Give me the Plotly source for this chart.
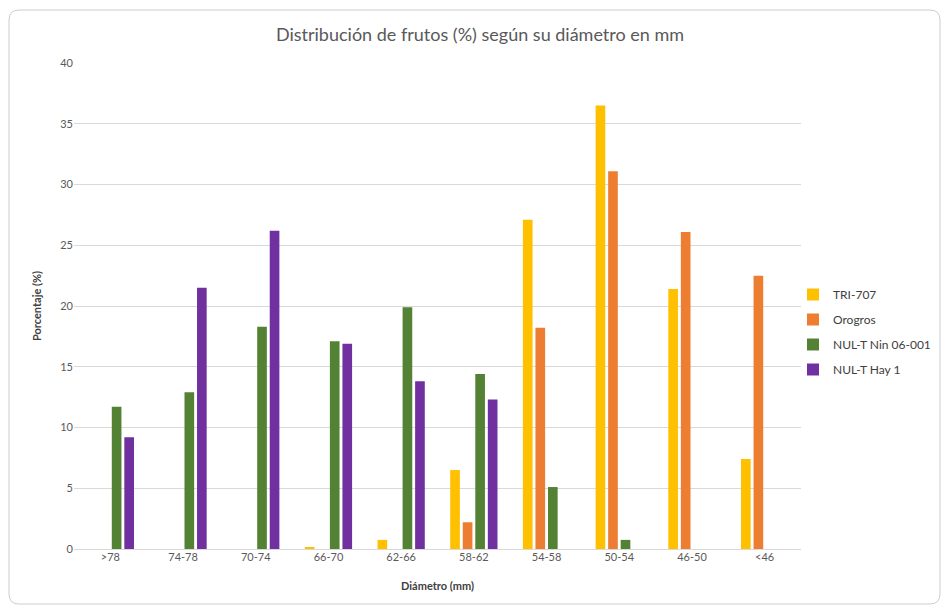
import plotly.graph_objects as go

categories = [">78", "74-78", "70-74", "66-70", "62-66", "58-62", "54-58", "50-54", "46-50", "<46"]
tri_707 = [0, 0, 0, 0.15, 0.75, 6.5, 27.1, 36.5, 21.4, 7.4]
orogros = [0, 0, 0, 0, 0, 2.2, 18.2, 31.1, 26.1, 22.5]
nul_nin = [11.7, 12.9, 18.3, 17.1, 19.9, 14.4, 5.1, 0.75, 0, 0]
nul_hay = [9.2, 21.5, 26.2, 16.9, 13.8, 12.3, 0, 0, 0, 0]

series = [
    ("TRI-707", tri_707, "#FFC000"),
    ("Orogros", orogros, "#ED7D31"),
    ("NUL-T Nin 06-001", nul_nin, "#548235"),
    ("NUL-T Hay 1", nul_hay, "#7030A0"),
]

FONT = "Lato, 'Open Sans', sans-serif"

fig = go.Figure()
for i, (name, vals, col) in enumerate(series):
    fig.add_trace(go.Bar(name=name, x=categories, y=vals, marker_color=col,
                         marker_line_width=0, legendgroup=name))

# page has an 8px body margin; work in figure coordinates
OFF = 8
W, H = 949 - OFF, 613 - OFF
L, R, T, B = 74 - OFF, 801 - OFF, 63 - OFF, 549 - OFF

def px(x):
    return (x - OFF - L) / (R - L)

def py(y):
    return (B - (y - OFF)) / (B - T)

# rounded chart border (page pixel coords)
x0, x1, y0, y1, r = 9, 940, 10, 604, 10
path = (f"M {px(x0+r)},{py(y0)} L {px(x1-r)},{py(y0)} "
        f"Q {px(x1)},{py(y0)} {px(x1)},{py(y0+r)} L {px(x1)},{py(y1-r)} "
        f"Q {px(x1)},{py(y1)} {px(x1-r)},{py(y1)} L {px(x0+r)},{py(y1)} "
        f"Q {px(x0)},{py(y1)} {px(x0)},{py(y1-r)} L {px(x0)},{py(y0+r)} "
        f"Q {px(x0)},{py(y0)} {px(x0+r)},{py(y0)} Z")
fig.add_shape(type="path", path=path, xref="paper", yref="paper",
              line=dict(color="#C8CDD3", width=1), layer="below")

fig.update_layout(
    width=W, height=H,
    margin=dict(l=L, r=W - R, t=T, b=H - B, autoexpand=False),
    paper_bgcolor="white", plot_bgcolor="white",
    title=dict(text="Distribución de frutos (%) según su diámetro en mm",
               x=(480 - OFF) / W, xanchor="center", y=1 - (35 - OFF) / H, yanchor="middle",
               font=dict(family=FONT, size=18, color="#595959")),
    barmode="group", bargap=0.31, bargroupgap=0.23,
    font=dict(family=FONT, size=11, color="#595959"),
    xaxis=dict(title=dict(text="<b>Diámetro (mm)</b>", font=dict(size=11, color="#404040"), standoff=20),
               showgrid=False, showline=False, ticks="", tickfont=dict(size=11, color="#595959")),
    yaxis=dict(title=dict(text="<b>Porcentaje (%)</b>", font=dict(size=11, color="#404040"), standoff=16),
               range=[0, 40], dtick=5, showgrid=True, gridcolor="#D9D9D9", gridwidth=1,
               zeroline=True, zerolinecolor="#D9D9D9", zerolinewidth=1,
               showline=False, ticks="", tickfont=dict(size=11, color="#595959")),
    legend=dict(x=px(793), y=py(280), xanchor="left", yanchor="top",
                bgcolor="rgba(0,0,0,0)",
                font=dict(size=12, color="#404040"), traceorder="grouped",
                tracegroupgap=6, itemwidth=30),
    showlegend=True,
)

fig.write_html("out.html")
